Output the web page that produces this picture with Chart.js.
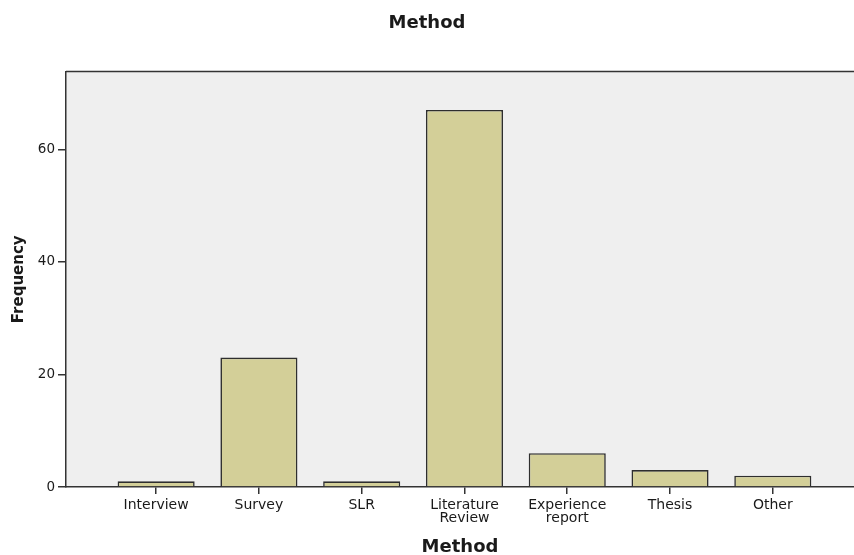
<!DOCTYPE html>
<html>
<head>
<meta charset="utf-8">
<script src="https://cdn.jsdelivr.net/npm/chart.js@4"></script>
<style>
  html, body { margin: 0; padding: 0; background: #fff; }
  #wrap { width: 854px; height: 555px; }
</style>
</head>
<body>
<div id="wrap"><canvas id="myChart" width="854" height="555"></canvas></div>
<script>
'use strict';

// 데이터
const categories = ['Interview', 'Survey', 'SLR', ['Literature', 'Review'], ['Experience', 'report'], 'Thesis', 'Other'];
const frequency = [1, 23, 1, 67, 6, 3, 2];
const yTicks = [0, 20, 40, 60];

// 막대 위치는 1..7
const points = frequency.map((v, i) => ({ x: i + 1, y: v }));

// 배경 + 위 테두리
const plotBg = {
    id: 'plotBg',
    beforeDraw(chart) {
        const a = chart.chartArea;
        const ctx = chart.ctx;
        ctx.save();
        ctx.fillStyle = '#efefef';
        ctx.fillRect(a.left, a.top, a.right - a.left, a.bottom - a.top);
        ctx.restore();
    },
    afterDraw(chart) {
        const a = chart.chartArea;
        const ctx = chart.ctx;
        ctx.save();
        ctx.strokeStyle = '#333';
        ctx.lineWidth = 1.5;
        ctx.beginPath();
        ctx.moveTo(a.left, a.top);
        ctx.lineTo(a.right, a.top);
        ctx.stroke();
        ctx.restore();
    }
};

const txt = '#1a1a1a';

new Chart(document.getElementById('myChart'), {
    type: 'bar',
    data: {
        datasets: [{
            data: points,
            backgroundColor: '#d3cf98',
            borderColor: '#2e2e2e',
            borderWidth: 1.6,
            barPercentage: 0.75,
            categoryPercentage: 1
        }]
    },
    options: {
        responsive: false,
        animation: false,
        layout: { padding: 0 },
        plugins: {
            legend: { display: false },
            tooltip: { enabled: false },
            title: {
                display: true,
                text: 'Method',
                color: txt,
                font: { family: 'DejaVu Sans', size: 18, weight: 'bold' },
                padding: { top: 13, bottom: 37 }
            }
        },
        scales: {
            x: {
                type: 'linear',
                offset: false,
                min: 0.123,
                max: 7.79,
                afterBuildTicks(scale) {
                    scale.ticks = categories.map((c, i) => ({ value: i + 1 }));
                },
                afterFit(scale) { scale.height = 68; },
                grid: { offset: false, drawOnChartArea: false, drawTicks: true, tickLength: 7, color: '#333', lineWidth: 1.5 },
                border: { display: true, color: '#333', width: 1.5 },
                ticks: {
                    color: txt,
                    padding: 5,
                    maxRotation: 0,
                    autoSkip: false,
                    font: { family: 'DejaVu Sans', size: 14, lineHeight: '13px' },
                    callback: (v) => categories[v - 1]
                },
                title: {
                    display: true,
                    text: 'Method',
                    color: txt,
                    font: { family: 'DejaVu Sans', size: 18, weight: 'bold' },
                    padding: { top: 0, bottom: -3 }
                }
            },
            y: {
                min: 0,
                max: 73.8,
                afterBuildTicks(scale) {
                    scale.ticks = yTicks.map(v => ({ value: v }));
                },
                afterFit(scale) { scale.width = 66; },
                grid: { drawOnChartArea: false, drawTicks: true, tickLength: 8, color: '#333', lineWidth: 1.5 },
                border: { display: true, color: '#333', width: 1.5 },
                ticks: {
                    color: txt,
                    padding: 3,
                    font: { family: 'DejaVu Sans', size: 13.5 }
                },
                title: {
                    display: true,
                    text: 'Frequency',
                    color: txt,
                    font: { family: 'DejaVu Sans', size: 15, weight: 'bold' },
                    padding: { top: 10, bottom: 0 }
                }
            }
        }
    },
    plugins: [plotBg]
});
</script>
</body>
</html>
